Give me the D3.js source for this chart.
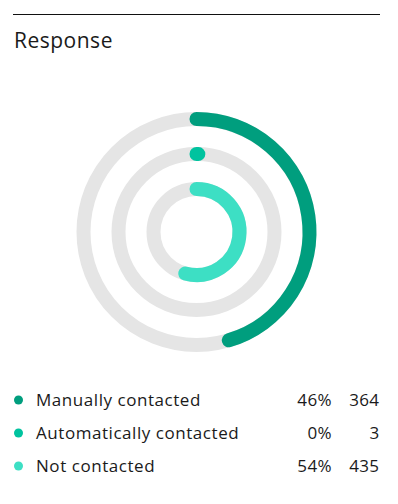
<!DOCTYPE html>
<html>
<head>
<meta charset="utf-8">
<script src="https://cdn.jsdelivr.net/npm/d3@7"></script>
<style>
	body { margin: 0; background: #fff; }
	text { font-family: "Open Sans", "Noto Sans", sans-serif; fill: #1a1a1a; }
</style>
</head>
<body>
<script>
var categories = ["Manually contacted", "Automatically contacted", "Not contacted"];
var counts = [364, 3, 435];
var percents = ["46%", "0%", "54%"];
var colors = ["#009e7e", "#00c39f", "#3ddfc4"];

var width = 398, height = 504;
var total = d3.sum(counts);

var svg = d3.select("body").append("svg")
	.attr("width", width)
	.attr("height", height);

// top rule + title
svg.append("line")
	.attr("x1", 13).attr("x2", 380)
	.attr("y1", 14.5).attr("y2", 14.5)
	.style("stroke", "#111")
	.style("stroke-width", 1);

svg.append("text")
	.attr("x", 14)
	.attr("y", 47.5)
	.style("font-size", "21px")
	.style("font-weight", 500)
	.style("letter-spacing", "0.5px")
	.text("Response");

// rings
var g = svg.append("g")
	.attr("transform", "translate(196.5,232)");

// reversed range: first category gets the outermost ring, value = inner radius
var ringR = d3.scaleBand()
	.domain(categories)
	.range([120, 36])
	.paddingInner(0.6);

var angle = d3.scaleLinear()
	.domain([0, total])
	.range([0, 2 * Math.PI]);

var rings = categories.map(function(c, i){ return { name: c, value: counts[i], color: colors[i] }; });

function midR(d){ return ringR(d.name) + ringR.bandwidth() / 2; }

function ringPath(d, a1){
	var p = d3.path();
	var r = midR(d);
	p.moveTo(0, -r);
	p.arc(0, 0, r, -Math.PI / 2, -Math.PI / 2 + a1);
	return p.toString();
}

g.selectAll(".track")
	.data(rings)
.enter().append("circle")
	.attr("class", "track")
	.attr("r", midR)
	.style("fill", "none")
	.style("stroke", "#e5e5e5")
	.style("stroke-width", ringR.bandwidth());

g.selectAll(".value")
	.data(rings)
.enter().append("path")
	.attr("class", "value")
	.attr("d", function(d){ return ringPath(d, Math.max(angle(d.value), 0.0001)); })
	.style("fill", "none")
	.style("stroke", function(d){ return d.color; })
	.style("stroke-width", ringR.bandwidth())
	.style("stroke-linecap", "round");

// legend
var rowY = d3.scalePoint()
	.domain(categories)
	.range([400, 466]);

var legend = svg.selectAll(".legend")
	.data(rings)
.enter().append("g")
	.attr("class", "legend")
	.attr("transform", function(d){ return "translate(0," + rowY(d.name) + ")"; });

legend.append("circle")
	.attr("cx", 18.5)
	.attr("cy", 0)
	.attr("r", 4.5)
	.style("fill", function(d){ return d.color; });

legend.selectAll("text.lbl")
	.data(function(d, i){
		return [
			{ x: 36, anchor: "start", t: d.name },
			{ x: 332, anchor: "end", t: percents[i] },
			{ x: 379.5, anchor: "end", t: d.value }
		];
	})
.enter().append("text")
	.attr("class", "lbl")
	.attr("x", function(d){ return d.x; })
	.attr("y", 5.5)
	.attr("text-anchor", function(d){ return d.anchor; })
	.style("font-size", "17px")
	.style("letter-spacing", function(d){ return d.anchor == "start" ? "0.55px" : "0.4px"; })
	.text(function(d){ return d.t; });
</script>
</body>
</html>
